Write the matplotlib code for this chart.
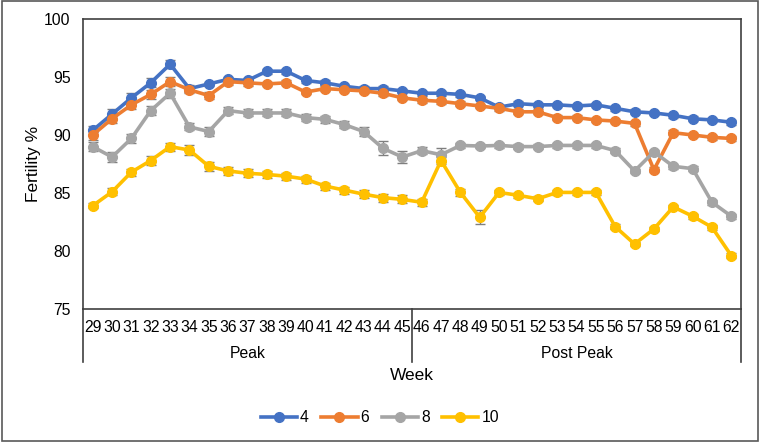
import numpy as np
import matplotlib
matplotlib.use('Agg')
import matplotlib.pyplot as plt
from matplotlib.patches import Rectangle
import matplotlib.transforms as mtransforms

plt.rcParams['font.family'] = ['Liberation Sans', 'DejaVu Sans']

# Datos
weeks = list(range(29, 63))
groups = ['Peak', 'Post Peak']
group_sizes = [17, 17]
series_names = ['4', '6', '8', '10']

fert_4 = [90.4, 91.8, 93.2, 94.5, 96.1, 94.0, 94.4, 94.8, 94.7, 95.5, 95.5, 94.7,
          94.5, 94.2, 94.0, 94.0, 93.8, 93.6, 93.6, 93.5, 93.2, 92.4, 92.7, 92.6,
          92.6, 92.5, 92.6, 92.3, 92.0, 91.9, 91.7, 91.4, 91.3, 91.1]
fert_6 = [90.0, 91.4, 92.6, 93.5, 94.6, 93.9, 93.4, 94.6, 94.5, 94.4, 94.5, 93.7,
          94.0, 93.9, 93.8, 93.6, 93.2, 93.0, 92.9, 92.7, 92.5, 92.3, 92.0, 92.0,
          91.5, 91.5, 91.3, 91.2, 91.0, 87.0, 90.2, 90.0, 89.8, 89.7]
fert_8 = [89.0, 88.1, 89.7, 92.1, 93.6, 90.7, 90.3, 92.1, 91.9, 91.9, 91.9, 91.5,
          91.35, 90.9, 90.3, 88.85, 88.1, 88.65, 88.3, 89.1, 89.05, 89.1, 89.0, 89.0,
          89.1, 89.1, 89.1, 88.65, 86.9, 88.55, 87.3, 87.1, 84.2, 83.0]
fert_10 = [83.9, 85.1, 86.8, 87.8, 89.0, 88.7, 87.3, 86.9, 86.7, 86.6, 86.45, 86.2,
           85.6, 85.25, 84.9, 84.6, 84.45, 84.2, 87.8, 85.05, 82.9, 85.05, 84.8, 84.5,
           85.05, 85.05, 85.05, 82.1, 80.6, 81.9, 83.8, 83.0, 82.05, 79.6]

# Errores estandar estimados (pequenos)
err_4 = [0.4, 0.4, 0.4, 0.4, 0.35, 0.3, 0.2, 0.2, 0.2, 0.2, 0.2, 0.2,
         0.2, 0.2, 0.2, 0.2, 0.2, 0.2, 0.2, 0.2, 0.2, 0.2, 0.2, 0.2,
         0.2, 0.2, 0.2, 0.2, 0.2, 0.2, 0.2, 0.2, 0.2, 0.2]
err_6 = [0.4, 0.4, 0.4, 0.4, 0.4, 0.3, 0.3, 0.3, 0.3, 0.2, 0.2, 0.2,
         0.2, 0.2, 0.2, 0.2, 0.2, 0.2, 0.2, 0.2, 0.2, 0.2, 0.2, 0.2,
         0.2, 0.2, 0.2, 0.2, 0.2, 0.2, 0.2, 0.2, 0.2, 0.2]
err_8 = [0.4, 0.4, 0.4, 0.4, 0.4, 0.3, 0.35, 0.3, 0.3, 0.3, 0.3, 0.3,
         0.3, 0.3, 0.4, 0.6, 0.5, 0.3, 0.6, 0.2, 0.2, 0.2, 0.2, 0.2,
         0.2, 0.2, 0.2, 0.2, 0.2, 0.2, 0.2, 0.2, 0.2, 0.2]
err_10 = [0.2, 0.3, 0.3, 0.4, 0.35, 0.4, 0.4, 0.35, 0.35, 0.3, 0.3, 0.3,
          0.3, 0.3, 0.35, 0.35, 0.35, 0.3, 0.3, 0.3, 0.6, 0.2, 0.2, 0.2,
          0.2, 0.2, 0.2, 0.2, 0.2, 0.2, 0.2, 0.2, 0.2, 0.2]

colores = ['#4472C4', '#ED7D31', '#A5A5A5', '#FFC000']
datos = [fert_4, fert_6, fert_8, fert_10]
errores = [err_4, err_6, err_8, err_10]

fig = plt.figure(figsize=(7.6, 4.42), dpi=100)
ax = fig.add_axes([83/760, 1 - 309/442, (741-83)/760, (309-19)/442])

x = np.arange(len(weeks))
for nombre, y, e, c in zip(series_names, datos, errores, colores):
    ax.errorbar(x, y, yerr=e, fmt='none', ecolor='#7F7F7F', elinewidth=1,
                capsize=3.5, capthick=1, zorder=2)
    ax.plot(x, y, color=c, lw=2.6, marker='o', ms=7, label=nombre, zorder=3)

ax.set_xlim(-0.5, len(weeks) - 0.5)
ax.set_ylim(75, 100)
ax.set_yticks([75, 80, 85, 90, 95, 100])
ax.set_xticks(x)
ax.set_xticklabels([str(w) for w in weeks], fontsize=11.3)
ax.tick_params(axis='x', length=0, pad=8)
ax.tick_params(axis='y', length=0, pad=9, labelsize=11.3)
for s in ax.spines.values():
    s.set_color('#404040')
    s.set_linewidth(1.2)

# Lineas y etiquetas de grupo
trans = mtransforms.blended_transform_factory(ax.transData, ax.transAxes)
bordes = [-0.5]
for g in group_sizes:
    bordes.append(bordes[-1] + g)
for b in bordes:
    ax.plot([b, b], [0, -53/290], transform=trans, color='#404040', lw=1.2,
            clip_on=False)
for i, g in enumerate(groups):
    centro = (bordes[i] + bordes[i + 1]) / 2
    ax.text(centro, -44/290, g, transform=trans, ha='center', va='center',
            fontsize=11.3)

ax.text(0.5, -67/290, 'Week', transform=ax.transAxes, ha='center', va='center',
        fontsize=12.5)
ax.set_ylabel('Fertility %', fontsize=12.5, labelpad=2)

fig.legend(loc='center', bbox_to_anchor=(0.5, 1 - 418/442), ncol=4,
           frameon=False, fontsize=11.3, handlelength=2.3, columnspacing=0.8,
           handletextpad=0.2)

# Borde exterior
fig.patches.append(Rectangle((0.002, 0.003), 0.996, 0.994, transform=fig.transFigure,
                             fill=False, edgecolor='#595959', lw=1.2))

fig.savefig('out.png', dpi=100)
